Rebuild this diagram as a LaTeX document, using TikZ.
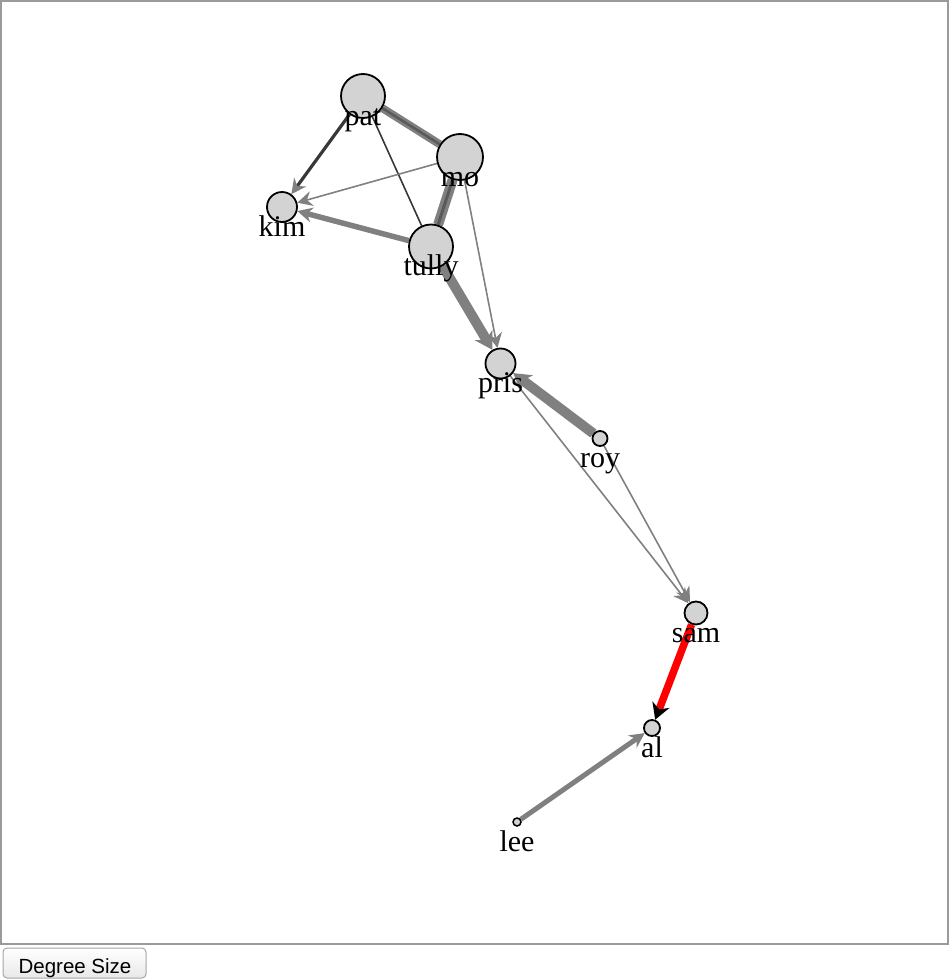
\documentclass[tikz,border=0pt]{standalone}
\usepackage{fontspec}
\setmainfont{Liberation Serif}
\newfontfamily\btnfont{Liberation Sans}
\usetikzlibrary{arrows.meta}
\pgfdeclarelayer{edgelayer}
\pgfsetlayers{edgelayer,main}
\definecolor{edgegray}{HTML}{808080}
\definecolor{edgedark}{HTML}{383838}
\definecolor{edgemid}{HTML}{5A5A5A}
\definecolor{nodefill}{HTML}{D3D3D3}
\definecolor{framegray}{HTML}{9A9A9A}
\begin{document}
\begin{tikzpicture}[x=1pt,y=-1pt,
  vtx/.style={circle, draw=black, line width=1.8pt, fill=nodefill, inner sep=0pt},
  lbl/.style={anchor=base, font=\fontsize{30}{30}\selectfont, inner sep=0pt, text=black},
  link/.style={draw=edgegray, line cap=butt},
  tipg/.style={-{Stealth[length=15pt, width=15pt, inset=5pt, edgegray]}},
  tipk/.style={-{Stealth[length=16pt, width=18pt, inset=5pt, black]}}
]
\useasboundingbox (0,0) rectangle (950,980);
% frame
\draw[framegray, line width=2pt] (1,1) rectangle (948,944);
% button
\draw[draw=gray!70, top color=white, bottom color=gray!18, rounded corners=4pt, line width=1pt]
  (3,948) rectangle (146,978);
\node[font=\btnfont\fontsize{20.5}{20.5}\selectfont, anchor=base, inner sep=0pt] (btn) at (75,973) {Degree Size};

% nodes
\node[vtx, minimum size=44pt] (pat) at (363,96) {};
\node[vtx, minimum size=46pt] (mo) at (460,157) {};
\node[vtx, minimum size=30pt] (kim) at (282,207) {};
\node[vtx, minimum size=44pt] (tully) at (431,246.5) {};
\node[vtx, minimum size=30pt] (pris) at (500.5,363.5) {};
\node[vtx, minimum size=15pt] (roy) at (600,438.5) {};
\node[vtx, minimum size=23pt] (sam) at (696,613) {};
\node[vtx, minimum size=16pt] (al) at (652,728) {};
\node[vtx, minimum size=8pt, line width=1.5pt] (lee) at (517,822) {};

% labels
\node[lbl] (patl) at (363,125) {pat};
\node[lbl] (mol) at (460,186) {mo};
\node[lbl] (kiml) at (282,236) {kim};
\node[lbl] (tullyl) at (431,275) {tully};
\node[lbl] (prisl) at (500.5,392) {pris};
\node[lbl] (royl) at (600,467) {roy};
\node[lbl] (saml) at (696,642) {sam};
\node[lbl] (all) at (652,757) {al};
\node[lbl] (leel) at (517,851) {lee};

% edges
\begin{pgfonlayer}{edgelayer}
\draw[link, line width=8pt] (pat) -- (mo);
\draw[link, draw=edgemid, line width=2.5pt] (pat) -- (mo);
\draw[link, line width=10pt] (mo) -- (tully);
\draw[link, draw=edgemid, line width=3pt] (mo) -- (tully);
\draw[link, draw=edgedark, line width=1.6pt] (pat) -- (tully);
\draw[link, draw=edgedark, line width=3.2pt, tipg] (pat) -- (kim);
\draw[link, line width=1.6pt, tipg] (mo) -- (kim);
\draw[link, line width=5.5pt, tipg] (tully) -- (kim);
\draw[link, line width=1.6pt, tipg] (mo) -- (pris);
\draw[link, line width=10pt, {-Stealth[length=17pt, width=20pt, inset=5pt, edgegray]}] (tully) -- (pris);
\draw[link, line width=10pt, {-Stealth[length=17pt, width=20pt, inset=5pt, edgegray]}] (roy) -- (pris);
\draw[link, line width=1.6pt, tipg] (pris) -- (sam);
\draw[link, line width=1.6pt, tipg] (roy) -- (sam);
\draw[link, draw=red, line width=7.5pt, tipk] (sam) -- (al);
\draw[link, line width=5pt, tipg] (lee) -- (al);
\end{pgfonlayer}
\end{tikzpicture}
\end{document}
